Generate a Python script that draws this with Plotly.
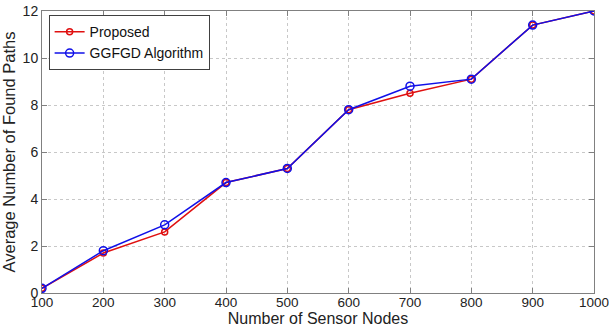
import plotly.graph_objects as go

nodes = [100, 200, 300, 400, 500, 600, 700, 800, 900, 1000]
proposed = [0.2, 1.7, 2.6, 4.7, 5.3, 7.8, 8.5, 9.1, 11.4, 12.0]
ggfgd = [0.2, 1.8, 2.9, 4.7, 5.3, 7.8, 8.8, 9.1, 11.4, 12.0]

fig = go.Figure()
fig.add_trace(go.Scatter(x=nodes, y=proposed, name="Proposed", mode="lines+markers",
                         line=dict(color="#e01010", width=1.5),
                         marker=dict(symbol="circle-open", size=6, color="#e01010", line=dict(width=1.5))))
fig.add_trace(go.Scatter(x=nodes, y=ggfgd, name="GGFGD Algorithm", mode="lines+markers",
                         line=dict(color="#1010e8", width=1.5),
                         marker=dict(symbol="circle-open", size=8, color="#1010e8", line=dict(width=1.5))))

axis_common = dict(showline=True, linecolor="#808080", linewidth=1, mirror="ticks",
                   ticks="inside", ticklen=5, tickcolor="#808080", automargin=False,
                   showgrid=True, gridcolor="#c8c8c8", griddash="dot", gridwidth=1,
                   zeroline=False, ticklabeloverflow="allow")

fig.update_xaxes(range=[100, 1000], tickvals=nodes, ticklabelstandoff=-3,
                 tickfont=dict(family="Liberation Sans, Arial", size=13.5, color="#222"),
                 title=dict(text="Number of Sensor Nodes",
                 font=dict(family="Liberation Sans, Arial", size=16, color="#222"), standoff=0), **axis_common)
fig.update_yaxes(range=[0, 12], tickvals=[0, 2, 4, 6, 8, 10, 12],
                 tickfont=dict(family="Liberation Sans, Arial", size=14, color="#222"),
                 title=dict(text="Average Number of Found Paths",
                 font=dict(family="Liberation Sans, Arial", size=16.5, color="#222"), standoff=4), **axis_common)

fig.update_layout(width=609, height=329, margin=dict(l=42, r=15, t=11, b=36),
                  paper_bgcolor="white", plot_bgcolor="white", showlegend=True,
                  legend=dict(x=0.012, y=0.985, xanchor="left", yanchor="top", bgcolor="white",
                              bordercolor="#404040", borderwidth=1,
                              font=dict(family="Liberation Sans, Arial", size=14, color="#111"),
                              tracegroupgap=0, itemwidth=30))

fig.write_html("out.html")
